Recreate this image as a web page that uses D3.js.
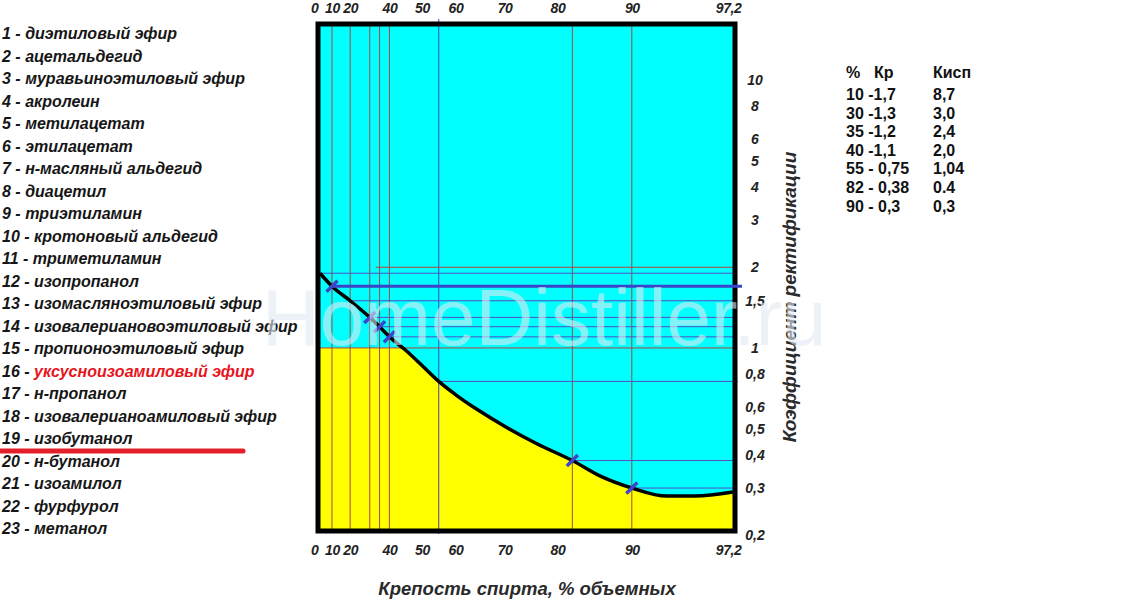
<!DOCTYPE html>
<html>
<head>
<meta charset="utf-8">
<script src="https://cdn.jsdelivr.net/npm/d3@7"></script>
<style>
  body { margin: 0; background: #fff; }
  svg { display: block; font-family: "Liberation Sans", Arial, sans-serif; }
</style>
</head>
<body>
<svg id="chart" width="1128" height="602"></svg>
<script>
// --- Chart data ---
const components = [
  "диэтиловый эфир", "ацетальдегид", "муравьиноэтиловый эфир", "акролеин",
  "метилацетат", "этилацетат", "н-масляный альдегид", "диацетил",
  "триэтиламин", "кротоновый альдегид", "триметиламин", "изопропанол",
  "изомасляноэтиловый эфир", "изовалериановоэтиловый эфир", "пропионоэтиловый эфир",
  "уксусноизоамиловый эфир", "н-пропанол", "изовалерианоамиловый эфир", "изобутанол",
  "н-бутанол", "изоамилол", "фурфурол", "метанол"
];
const highlighted = 16;      // drawn in red
const underlinedItem = 19;   // red stroke under it

const strengthTicks = [0, 10, 20, 40, 50, 60, 70, 80, 90, 97.2];
const coefTicks = [10, 8, 6, 5, 4, 3, 2, 1.5, 1, 0.8, 0.6, 0.5, 0.4, 0.3, 0.2];

// rectification coefficient vs spirit strength
const curveStrength = [0, 10, 20, 30, 35, 40, 45, 50, 55, 60, 65, 70, 76, 82, 86, 90, 92.5, 94.5, 97.2];
const curveCoef     = [1.9, 1.7, 1.5, 1.3, 1.2, 1.1, 0.98, 0.86, 0.75, 0.67, 0.58, 0.51, 0.44, 0.38, 0.33, 0.3, 0.28, 0.28, 0.29];

// table on the right
const tablePct  = [10, 30, 35, 40, 55, 82, 90];
const tableKr   = [1.7, 1.3, 1.2, 1.1, 0.75, 0.38, 0.3];
const tableKisp = ["8,7", "3,0", "2,4", "2,0", "1,04", "0.4", "0,3"];

// guide lines drawn on the plot
const verticalPct = [10, 20, 30, 35, 40, 55, 82, 90];
const levelPct    = [0, 20, 30, 35, 40, 55, 82, 90];  // horizontals start at the curve
const markedPct   = [10, 30, 35, 40, 82, 90];         // blue strokes on the curve
const extraLevels = [2.0, 1.0];
const extraFrom   = [33, 0];

// --- Setup ---
const svg = d3.select("#chart");
const plot = { left: 320, right: 733, top: 26, bottom: 529 };
const comma = d => String(d).replace(".", ",");
const coefAt = p => curveCoef[curveStrength.indexOf(p)];

// the strength axis of the original is not linear: calibrate on its own tick marks
const xFrac = [0, 0.029, 0.073, 0.168, 0.247, 0.328, 0.447, 0.575, 0.755, 1];
const x = d3.scaleLinear()
  .domain(strengthTicks)
  .range(xFrac.map(f => plot.left + f * (plot.right - plot.left)));

const y = d3.scaleLog()
  .domain([0.211, 15.9])
  .range([plot.bottom, plot.top]);

const curvePts = curveStrength.map((p, i) => ({ p, k: curveCoef[i] }));

// --- Plot background ---
svg.append("rect")
  .attr("x", plot.left).attr("y", plot.top)
  .attr("width", plot.right - plot.left).attr("height", plot.bottom - plot.top)
  .attr("fill", "#00ffff");

// yellow zone: below the curve and below K = 1
const under = d3.area()
  .x(d => x(d.p)).y0(plot.bottom).y1(d => y(d.k))
  .curve(d3.curveMonotoneX);
svg.append("clipPath").attr("id", "under")
  .append("path").attr("d", under(curvePts));
svg.append("rect")
  .attr("x", plot.left).attr("y", y(1))
  .attr("width", plot.right - plot.left).attr("height", plot.bottom - y(1))
  .attr("fill", "#ffff00")
  .attr("clip-path", "url(#under)");

// vertical guides
svg.append("g").selectAll("line")
  .data(verticalPct)
  .join("line")
  .attr("x1", d => x(d)).attr("x2", d => x(d))
  .attr("y1", d => d === 55 ? plot.top - 7 : plot.top)
  .attr("y2", d => d === 55 ? plot.bottom + 5 : plot.bottom)
  .attr("stroke", d => d === 55 ? "#4646c0" : "#a8463e")
  .attr("stroke-width", 1);

// horizontal guides from each curve point to the right edge
svg.append("g").selectAll("line")
  .data(levelPct)
  .join("line")
  .attr("x1", d => x(d)).attr("x2", d => d === 55 ? plot.right + 5 : plot.right)
  .attr("y1", d => y(coefAt(d))).attr("y2", d => y(coefAt(d)))
  .attr("stroke", "#5050c4")
  .attr("stroke-width", 1);

svg.append("g").selectAll("line")
  .data(extraLevels)
  .join("line")
  .attr("x1", (d, i) => x(extraFrom[i])).attr("x2", plot.right)
  .attr("y1", d => y(d)).attr("y2", d => y(d))
  .attr("stroke", "#b0463e")
  .attr("stroke-width", 1);

// the curve
const line = d3.line().x(d => x(d.p)).y(d => y(d.k)).curve(d3.curveMonotoneX);
svg.append("path")
  .attr("d", line(curvePts))
  .attr("fill", "none")
  .attr("stroke", "#000")
  .attr("stroke-width", 3.5);

// frame
svg.append("rect")
  .attr("x", plot.left - 2).attr("y", plot.top - 2)
  .attr("width", plot.right - plot.left + 4).attr("height", plot.bottom - plot.top + 4)
  .attr("fill", "none")
  .attr("stroke", "#000")
  .attr("stroke-width", 5);

// thick level at 10 %
svg.append("line")
  .attr("x1", x(10)).attr("x2", plot.right + 9)
  .attr("y1", y(coefAt(10))).attr("y2", y(coefAt(10)))
  .attr("stroke", "#3a44c8")
  .attr("stroke-width", 3);

// blue marks on the curve
svg.append("g").selectAll("line")
  .data(markedPct)
  .join("line")
  .attr("x1", d => x(d) - 5.5).attr("x2", d => x(d) + 5.5)
  .attr("y1", d => y(coefAt(d)) + 5.5).attr("y2", d => y(coefAt(d)) - 5.5)
  .attr("stroke", "#3c46c8")
  .attr("stroke-width", 3.5);

// --- Axes ---
const styleAxis = (g, size) => {
  g.select(".domain").remove();
  g.selectAll("text")
    .attr("font-size", size)
    .attr("font-weight", "bold")
    .attr("font-style", "italic")
    .attr("fill", "#222")
    .attr("font-family", "'Liberation Sans', Arial, sans-serif");
};
const fixEnds = g => {
  g.selectAll(".tick text")
    .attr("letter-spacing", -0.4)
    .attr("text-anchor", d => d === 0 ? "end" : d === 97.2 ? "end" : "middle")
    .attr("dx", d => d === 0 ? -2 : d === 97.2 ? 8 : 0);
};

svg.append("g")
  .attr("transform", "translate(0,13)")
  .call(d3.axisTop(x).tickValues(strengthTicks).tickSize(0).tickPadding(0).tickFormat(comma))
  .call(g => styleAxis(g, 14))
  .call(fixEnds);

svg.append("g")
  .attr("transform", "translate(0,545)")
  .call(d3.axisBottom(x).tickValues(strengthTicks).tickSize(0).tickPadding(0).tickFormat(comma))
  .call(g => styleAxis(g, 14))
  .call(fixEnds);

svg.append("g")
  .attr("transform", "translate(755,0)")
  .call(d3.axisRight(y).tickValues(coefTicks).tickSize(0).tickPadding(0).tickFormat(comma))
  .call(g => styleAxis(g, 14))
  .call(g => g.selectAll("text").attr("text-anchor", "middle"));

svg.append("text")
  .attr("x", 527).attr("y", 595)
  .attr("text-anchor", "middle")
  .attr("font-size", 18.5).attr("font-weight", "bold").attr("font-style", "italic")
  .attr("fill", "#2a2a2a")
  .text("Крепость спирта, % объемных");

svg.append("text")
  .attr("transform", "translate(796,297) rotate(-90)")
  .attr("text-anchor", "middle")
  .attr("font-size", 19).attr("font-weight", "bold").attr("font-style", "italic")
  .attr("fill", "#2a2a2a")
  .text("Коэффициент ректификации");

// --- Legend of components ---
const rowY = d3.scaleLinear().domain([1, components.length]).range([39, 534]);
const legend = svg.append("g")
  .attr("font-size", 16).attr("font-weight", "bold").attr("font-style", "italic");
components.forEach((name, i) => {
  const n = i + 1;
  const t = legend.append("text").attr("x", 2).attr("y", rowY(n)).attr("fill", "#161616");
  t.append("tspan").text(n + " - ");
  t.append("tspan").attr("fill", n === highlighted ? "#e8141c" : "#161616").text(name);
});
svg.append("line")
  .attr("x1", -4).attr("x2", 243)
  .attr("y1", rowY(underlinedItem) + 7).attr("y2", rowY(underlinedItem) + 7)
  .attr("stroke", "#e3202a")
  .attr("stroke-width", 5)
  .attr("stroke-linecap", "round");

// --- Table ---
const table = svg.append("g").attr("font-size", 16).attr("font-weight", "bold").attr("fill", "#111");
table.append("text").attr("x", 846).attr("y", 78).text("%");
table.append("text").attr("x", 874).attr("y", 78).text("Кр");
table.append("text").attr("x", 933).attr("y", 78).text("Кисп");
tablePct.forEach((p, i) => {
  const k = tableKr[i];
  const yy = 100 + i * 18.6;
  table.append("text").attr("x", 846).attr("y", yy)
    .text(p + (k >= 1 ? " -" : " - ") + comma(k));
  table.append("text").attr("x", 933).attr("y", yy).text(tableKisp[i]);
});

// faint site watermark
svg.append("text")
  .attr("x", 262).attr("y", 345)
  .attr("font-size", 80)
  .attr("fill", "#e0ebf3")
  .attr("opacity", 0.6)
  .text("HomeDistiller.ru");
</script>
</body>
</html>
